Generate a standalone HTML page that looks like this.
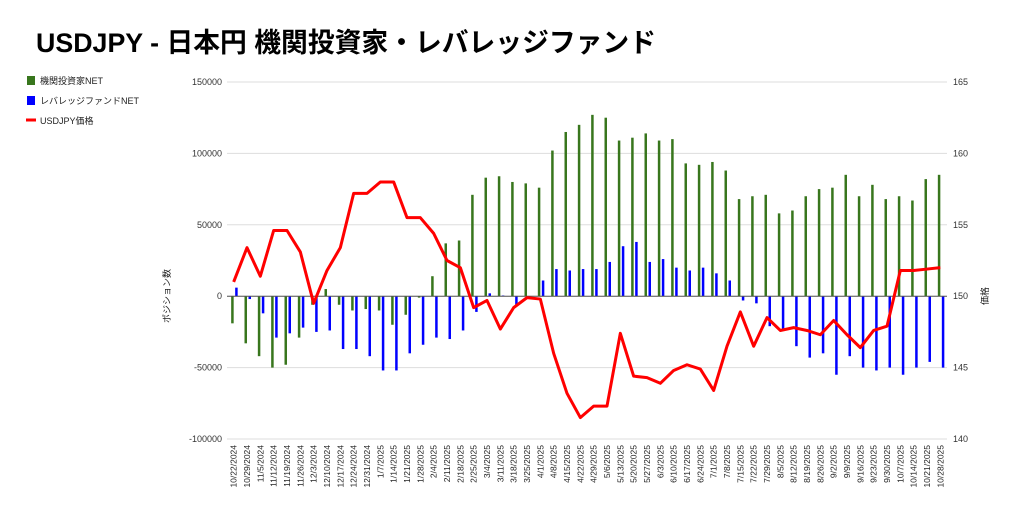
<!DOCTYPE html>
<html><head><meta charset="utf-8"><style>
body{margin:0;background:#fff;width:1024px;height:521px;overflow:hidden;font-family:"Liberation Sans","Noto Sans CJK JP",sans-serif}
svg text{font-family:"Liberation Sans","Noto Sans CJK JP",sans-serif}
</style></head><body>
<svg id="c" width="1024" height="521">
<text x="36" y="52" font-size="27" font-weight="bold" fill="#000" textLength="620" lengthAdjust="spacingAndGlyphs">USDJPY - 日本円 機関投資家・レバレッジファンド</text>
<g>
<rect x="27" y="76" width="8" height="9" fill="#38761d"/>
<text x="40" y="84" font-size="9" fill="#222">機関投資家NET</text>
<rect x="27" y="96" width="8" height="9" fill="#0000ff"/>
<text x="40" y="104" font-size="9" fill="#222">レバレッジファンドNET</text>
<rect x="26" y="118.5" width="10" height="3" fill="#ff0000"/>
<text x="40" y="124" font-size="9" fill="#222">USDJPY価格</text>
</g>
<text transform="translate(170,296) rotate(-90)" font-size="9" text-anchor="middle" fill="#222">ポジション数</text>
<text transform="translate(988,296) rotate(-90)" font-size="9" text-anchor="middle" fill="#222">価格</text>
<g id="g"></g>
</svg>
<script>
const categories=["10/22/2024","10/29/2024","11/5/2024","11/12/2024","11/19/2024","11/26/2024","12/3/2024","12/10/2024","12/17/2024","12/24/2024","12/31/2024","1/7/2025","1/14/2025","1/21/2025","1/28/2025","2/4/2025","2/11/2025","2/18/2025","2/25/2025","3/4/2025","3/11/2025","3/18/2025","3/25/2025","4/1/2025","4/8/2025","4/15/2025","4/22/2025","4/29/2025","5/6/2025","5/13/2025","5/20/2025","5/27/2025","6/3/2025","6/10/2025","6/17/2025","6/24/2025","7/1/2025","7/8/2025","7/15/2025","7/22/2025","7/29/2025","8/5/2025","8/12/2025","8/19/2025","8/26/2025","9/2/2025","9/9/2025","9/16/2025","9/23/2025","9/30/2025","10/7/2025","10/14/2025","10/21/2025","10/28/2025"];
const institutionalNet=[-19000,-33000,-42000,-50000,-48000,-29000,-6000,5000,-6000,-10000,-9000,-10000,-20000,-13000,-1000,14000,37000,39000,71000,83000,84000,80000,79000,76000,102000,115000,120000,127000,125000,109000,111000,114000,109000,110000,93000,92000,94000,88000,68000,70000,71000,58000,60000,70000,75000,76000,85000,70000,78000,68000,70000,67000,82000,85000];
const leveragedNet=[6000,-2000,-12000,-29000,-26000,-22000,-25000,-24000,-37000,-37000,-42000,-52000,-52000,-40000,-34000,-29000,-30000,-24000,-11000,2000,500,-6000,0,11000,19000,18000,19000,19000,24000,35000,38000,24000,26000,20000,18000,20000,16000,11000,-3000,-5000,-21000,-24000,-35000,-43000,-40000,-55000,-42000,-50000,-52000,-50000,-55000,-50000,-46000,-50000];
const price=[151.0,153.4,151.4,154.6,154.6,153.1,149.5,151.8,153.4,157.2,157.2,158.0,158.0,155.5,155.5,154.4,152.5,152.0,149.2,149.7,147.7,149.2,149.9,149.8,146.0,143.2,141.5,142.3,142.3,147.4,144.4,144.3,143.9,144.8,145.2,144.9,143.4,146.5,148.9,146.5,148.5,147.6,147.8,147.6,147.3,148.3,147.3,146.4,147.6,147.9,151.8,151.8,151.9,152.0];
const leftTicks=[150000,100000,50000,0,-50000,-100000];
const rightTicks=[165,160,155,150,145,140];

const NS="http://www.w3.org/2000/svg",g=document.getElementById('g');
const X0=227,X1=947,T=82,B=439;
const step=(X1-X0)/categories.length;
const yL=v=>T+(150000-v)/250000*(B-T);
const yR=v=>T+(165-v)/25*(B-T);
const xc=i=>X0+step*(i+0.5);
function mk(t,a){const e=document.createElementNS(NS,t);for(const k in a)e.setAttribute(k,a[k]);g.appendChild(e);return e;}
leftTicks.forEach(v=>{
  const l=mk('line',{x1:X0,x2:X1,y1:yL(v),y2:yL(v),stroke:'#ddd','stroke-width':1});
  
  
  const t=mk('text',{x:222,y:yL(v)+3,'font-size':9,'text-anchor':'end',fill:'#333'});t.textContent=v;
  
  
});
rightTicks.forEach(v=>{
  const t=mk('text',{x:953,y:yR(v)+3,'font-size':9,fill:'#333'});t.textContent=v;
  
  
});
categories.forEach((c,i)=>{
  const a=institutionalNet[i],b=leveragedNet[i];
  const r1=mk('rect',{x:xc(i)-2.5,y:Math.min(yL(a),yL(0)),width:2.5,height:Math.abs(yL(a)-yL(0)),fill:'#38761d'});
  
  
  const r2=mk('rect',{x:xc(i)+1.5,y:Math.min(yL(b),yL(0)),width:2.5,height:Math.abs(yL(b)-yL(0)),fill:'#0000ff'});
  
  
  const t=mk('text',{'font-size':8.5,'text-anchor':'end',fill:'#222',transform:`translate(${xc(i)+3},445) rotate(-90)`});t.textContent=c;
  
  
});
const z=mk('line',{x1:X0,x2:X1,y1:yL(0),y2:yL(0),stroke:'#555','stroke-width':1});


const p=mk('polyline',{points:price.map((v,i)=>xc(i)+','+yR(v)).join(' '),fill:'none',stroke:'#ff0000','stroke-width':3,'stroke-linejoin':'round'});


</script>
</body></html>
